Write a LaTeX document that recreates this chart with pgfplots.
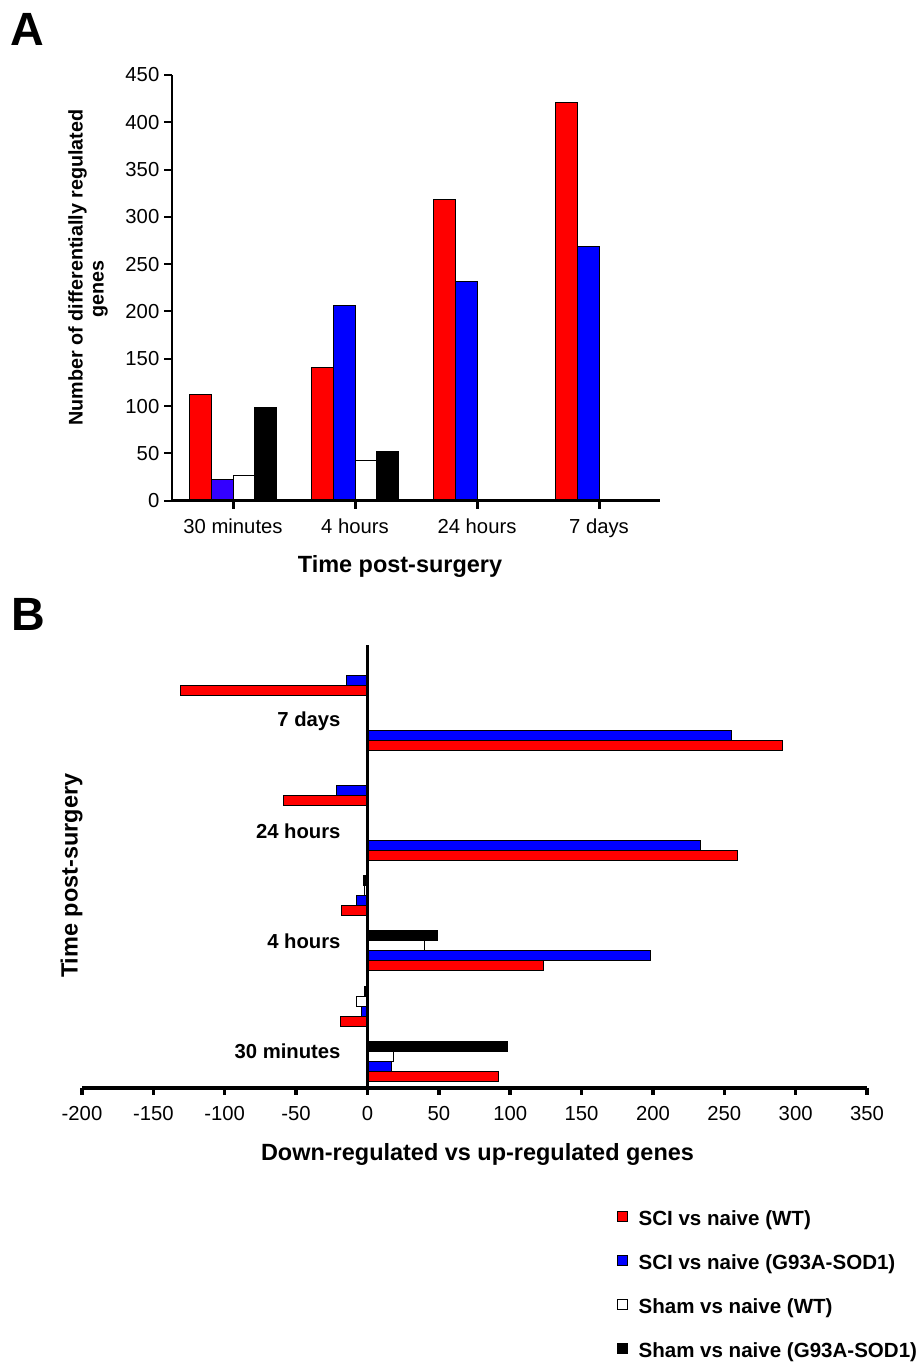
\documentclass[border=0pt]{standalone}
\usepackage{pgfplots}
\pgfplotsset{compat=1.18}
\usepackage{fontspec}
\setmainfont{Liberation Sans}
\definecolor{sred}{RGB}{255,0,0}
\definecolor{sblue}{RGB}{0,0,255}
\definecolor{sblueb}{RGB}{51,0,255}
\begin{document}
\begin{tikzpicture}
\path[use as bounding box] (0,0) rectangle (690.75pt,1025.25pt);

% ---------------- Panel A ----------------
\begin{axis}[
  at={(129pt,649.725pt)}, anchor=south west,
  scale only axis, width=366pt, height=319.275pt,
  xmin=-0.5, xmax=3.5, ymin=0, ymax=450,
  axis x line=bottom, axis y line=left, axis line style={-},
  x axis line style={line width=2.25pt},
  y axis line style={line width=1.5pt},
  xtick={0,1,2,3}, xticklabels={30 minutes,4 hours,24 hours,7 days},
  ytick={0,50,...,450},
  tick align=outside, major tick length=6pt,
  xtick style={line width=2.25pt, black},
  ytick style={line width=1.5pt, black},
  ticklabel style={font=\fontsize{15.2}{18}\selectfont},
  xticklabel style={yshift=-4pt},
  /pgf/number format/assume math mode=true,
  ybar, bar width=0.18, axis on top,
]
\addplot[fill=sred, draw=black, line width=0.75pt, bar shift=-0.27] coordinates {(0,112) (1,141) (2,318) (3,421)};
\addplot[fill=sblueb, draw=black, line width=0.75pt, bar shift=-0.09] coordinates {(0,22)};
\addplot[fill=sblue, draw=black, line width=0.75pt, bar shift=-0.09] coordinates {(1,206) (2,232) (3,269)};
\addplot[fill=white, draw=black, line width=0.75pt, bar shift=0.09] coordinates {(0,27) (1,42)};
\addplot[fill=black, draw=black, line width=0.75pt, bar shift=0.27] coordinates {(0,99) (1,52)};
\end{axis}

% ---------------- Panel B ----------------
\begin{axis}[
  at={(61.5pt,209.25pt)}, anchor=south west,
  scale only axis, width=588.75pt, height=332.25pt,
  xmin=-200, xmax=350, ymin=-0.486, ymax=7.547,
  axis x line=bottom, axis y line=middle, axis line style={-},
  x axis line style={line width=2.6pt},
  y axis line style={line width=2.4pt},
  xtick={-200,-150,...,350},
  ytick={0.22,2.22,4.22,6.22},
  yticklabels={30 minutes,4 hours,24 hours,7 days},
  tick align=outside, major tick length=5pt,
  xtick style={line width=2.6pt, black},
  ytick style={draw=none},
  hide obscured x ticks=false,
  xticklabel style={font=\fontsize{15.2}{18}\selectfont, yshift=-5pt},
  yticklabel style={font=\bfseries\fontsize{15.2}{18}\selectfont, anchor=east, inner sep=0pt, xshift=-15pt, yshift=-2pt},
  /pgf/number format/assume math mode=true,
  xbar, bar width=0.1813, axis on top,
  legend style={at={(0.6811,-0.4480)}, anchor=west, draw=none, fill=none,
    inner sep=0pt, outer sep=0pt,
    font=\bfseries\fontsize{15.4}{18}\selectfont,
    row sep=18.9pt, column sep=8.2pt,
    nodes={inner sep=0pt, text height=11pt, text depth=3pt}},
  legend cell align=left,
  legend image code/.code={\draw[#1, line width=0.75pt] (0pt,-0.9pt) rectangle (7.5pt,6.6pt);},
]
\addplot[fill=sred, draw=black, line width=0.75pt, bar shift=-0.272] coordinates {(92,0) (-19,1) (123,2) (-18,3) (259,4) (-59,5) (291,6) (-131,7)};
\addlegendentry{SCI vs naive (WT)}
\addplot[fill=sblue, draw=black, line width=0.75pt, bar shift=-0.0907] coordinates {(17,0) (-4,1) (198,2) (-8,3) (233,4) (-22,5) (255,6) (-15,7)};
\addlegendentry{SCI vs naive (G93A-SOD1)}
\addplot[fill=white, draw=black, line width=0.75pt, bar shift=0.0907] coordinates {(18,0) (-8,1) (40,2) (-2,3)};
\addlegendentry{Sham vs naive (WT)}
\addplot[fill=black, draw=black, line width=0.75pt, bar shift=0.272] coordinates {(98,0) (-2,1) (49,2) (-3,3)};
\addlegendentry{Sham vs naive (G93A-SOD1)}
\end{axis}

% ---------------- Labels ----------------
\begin{scope}[x=0.75pt,y=0.75pt]
\node[font=\bfseries\fontsize{35}{40}\selectfont, inner sep=0pt] at ({27.5},{1367-29.5}) {A};
\node[font=\bfseries\fontsize{35}{40}\selectfont, inner sep=0pt] at ({28.5},{1367-614}) {B};
\node[font=\bfseries\fontsize{14.8}{18}\selectfont, rotate=90, inner sep=0pt] at ({77.5},{1367-267.5}) {Number of differentially regulated};
\node[font=\bfseries\fontsize{14.8}{18}\selectfont, rotate=90, inner sep=0pt] at ({100.5},{1367-289}) {genes};
\node[font=\bfseries\fontsize{17.6}{20}\selectfont, inner sep=0pt] at ({400},{1367-566}) {Time post-surgery};
\node[font=\bfseries\fontsize{17.6}{20}\selectfont, rotate=90, inner sep=0pt] at ({71.7},{1367-875.8}) {Time post-surgery};
\node[font=\bfseries\fontsize{17.6}{20}\selectfont, inner sep=0pt] at ({477.5},{1367-1154}) {Down-regulated vs up-regulated genes};
\end{scope}
\end{tikzpicture}
\end{document}
